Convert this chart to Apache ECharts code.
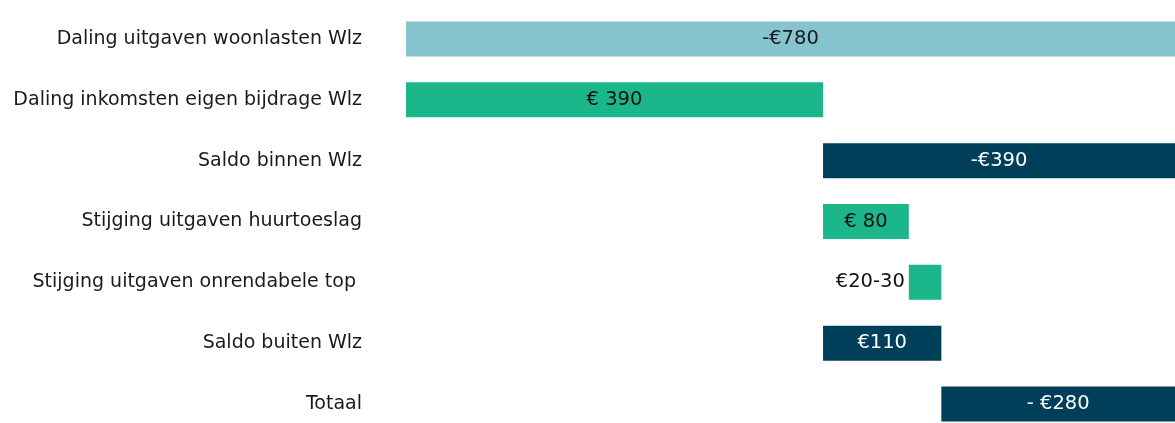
<!DOCTYPE html>
<html><head><meta charset="utf-8">
<script src="https://cdn.jsdelivr.net/npm/echarts@6/dist/echarts.min.js"></script>
<style>html,body{margin:0;padding:0;background:#fff}#c{width:1175px;height:423px}</style>
</head><body><div id="c"></div>
<script>
const categories = ["Daling uitgaven woonlasten Wlz","Daling inkomsten eigen bijdrage Wlz","Saldo binnen Wlz","Stijging uitgaven huurtoeslag","Stijging uitgaven onrendabele top ","Saldo buiten Wlz","Totaal"];
const bases = [0, 0, 423, 423, 510, 423, 543];
const lengths = [780, 423, 357, 87, 33, 120, 237];
const valueLabels = ["-€780","€ 390","-€390","€ 80","€20-30","€110","- €280"];
const colors = ["#85C3CE","#1BB78A","#003F5A","#1BB78A","#1BB78A","#003F5A","#003F5A"];
const labelColors = ["#1a1a1a","#111","#fff","#111","#111","#fff","#fff"];
const FONT = "DejaVu Sans";
const chart = echarts.init(document.getElementById('c'));
chart.setOption({
  animation:false,
  grid:{left:406,right:0,top:8.6,height:425.8,containLabel:false,outerBoundsMode:'none'},
  xAxis:{type:'value',min:0,max:780,show:false},
  yAxis:{type:'category',inverse:true,data:categories,
    axisLine:{show:false},axisTick:{show:false},splitLine:{show:false},
    axisLabel:{margin:44,fontSize:19,color:'#1a1a1a',fontFamily:FONT}},
  series:[
    {type:'bar',stack:'w',data:bases,itemStyle:{color:'transparent'},barWidth:35,silent:true},
    {type:'bar',stack:'w',barWidth:35,
     data:lengths.map((v,i)=>({value:v,itemStyle:{color:colors[i]},
       label:{show:true,formatter:valueLabels[i],position:i===4?'left':'inside',distance:i===4?4:5,
         color:labelColors[i],fontSize:19.5,fontFamily:FONT}}))}
  ]
});
</script></body></html>
